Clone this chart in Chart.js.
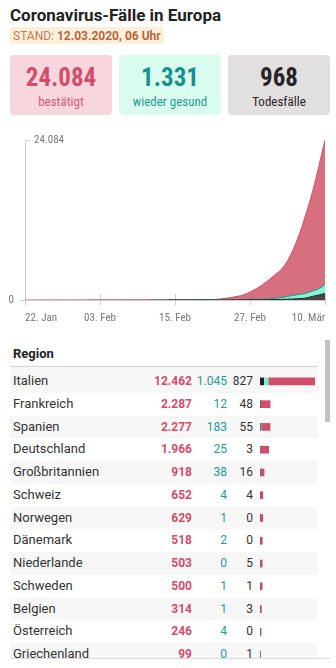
<!DOCTYPE html>
<html><head><meta charset="utf-8">
<script src="https://cdn.jsdelivr.net/npm/chart.js@4"></script>
<style>
html,body{margin:0;padding:0;background:#fff;}
body{width:336px;height:668px;position:relative;overflow:hidden;font-family:Roboto,sans-serif;color:#333;}
.abs{position:absolute;}
#title{left:10px;top:5px;font-size:17px;font-weight:700;line-height:20px;color:#222;white-space:nowrap;}
#stand{left:10px;top:27px;height:17px;line-height:18px;padding:0 3px;font-size:12px;background:#fdf0da;color:#c47a58;border-radius:3px;white-space:nowrap;}
#stand b{color:#b9643f;}
.card{position:absolute;top:55px;width:102px;height:60px;border-radius:4px;text-align:center;}
.cond{font-family:"Roboto Condensed",Roboto,sans-serif;font-stretch:condensed;}
.card .num{position:absolute;left:0;right:0;top:7.5px;font-size:25px;font-weight:700;line-height:30px;}
.card .lab{position:absolute;left:0;right:0;top:38.5px;font-size:13px;line-height:16px;}
#c1{left:10px;background:#f7d6dd;color:#d24d6b;}
#c1 .lab{color:#d65a7a;}
#c2{left:119px;background:#dafcef;color:#14918d;}
#c2 .lab{color:#1f9a96;}
#c3{left:228px;background:#e1dfe0;color:#2a2326;}
#chartBox{left:0;top:120px;width:336px;height:210px;}
#tbl{left:10px;top:340px;width:320px;height:318px;overflow:hidden;border-bottom:1px solid #ddd;}
#thead{position:absolute;left:0;top:0;width:308px;height:26px;border-bottom:2px solid #d2d2d2;}
#thead span{position:absolute;left:3px;top:5px;font-size:13px;font-weight:700;line-height:18px;color:#222;}
.row{position:absolute;left:0;width:308px;height:22.75px;line-height:22.75px;font-size:13px;}
.row.sh{background:#f7f7f7;}
.row .nm{position:absolute;left:3px;color:#333;white-space:nowrap;}
.row .cf{position:absolute;left:122px;width:60px;text-align:right;font-size:12px;font-weight:700;color:#d24d6b;}
.row .rc{position:absolute;left:167px;width:50px;text-align:right;font-size:12px;color:#1f9a96;}
.row .dt{position:absolute;left:203px;width:40px;text-align:right;font-size:12px;color:#333;}
#thumb{position:absolute;left:315px;top:0;width:5px;height:82px;background:#c1c1c1;}
#barBox{position:absolute;left:250px;top:30px;width:55px;height:296px;}
</style>
</head><body>
<div id="title" class="abs">Coronavirus-Fälle in Europa</div>
<div id="stand" class="abs">STAND: <b>12.03.2020, 06 Uhr</b></div>
<div id="c1" class="card"><div class="num cond" id="n1"></div><div class="lab cond">bestätigt</div></div>
<div id="c2" class="card"><div class="num cond" id="n2"></div><div class="lab cond">wieder gesund</div></div>
<div id="c3" class="card"><div class="num cond" id="n3"></div><div class="lab cond">Todesfälle</div></div>
<div id="chartBox" class="abs"><canvas id="main" width="336" height="210"></canvas></div>
<div id="tbl" class="abs">
  <div id="thead"><span>Region</span></div>
  <div id="rows"></div>
  <div id="barBox"><canvas id="bars" width="55" height="296"></canvas></div>
  <div id="thumb"></div>
</div>
<script>
// ---- time series (Europe, cumulative) ----
const dates = ['22.01','23.01','24.01','25.01','26.01','27.01','28.01','29.01','30.01','31.01',
  '01.02','02.02','03.02','04.02','05.02','06.02','07.02','08.02','09.02','10.02',
  '11.02','12.02','13.02','14.02','15.02','16.02','17.02','18.02','19.02','20.02',
  '21.02','22.02','23.02','24.02','25.02','26.02','27.02','28.02','29.02',
  '01.03','02.03','03.03','04.03','05.03','06.03','07.03','08.03','09.03','10.03'];
const xTickLabels = {'22.01':'22. Jan','03.02':'03. Feb','15.02':'15. Feb','27.02':'27. Feb','10.03':'10. Mär'};
const confirmed = [0,0,2,3,3,4,7,10,10,14,
  18,20,22,24,26,28,32,38,42,44,
  45,46,46,46,47,47,47,47,47,47,
  60,130,240,380,550,800,1200,1700,2300,
  3000,3800,4600,5900,7800,10200,13100,16300,20100,24084];
const recovered = [0,0,0,0,0,0,0,0,0,0,
  0,0,0,0,0,0,0,0,0,0,
  0,2,2,3,3,4,5,8,10,12,
  14,16,18,20,22,30,70,80,90,
  130,200,280,420,560,650,720,800,950,1331];
const deaths = [0,0,0,0,0,0,0,0,0,0,
  0,0,0,0,0,0,0,0,0,0,
  0,0,0,0,1,1,1,1,1,1,
  2,4,6,10,14,16,22,28,35,
  45,60,90,120,160,210,300,550,750,968];

// ---- table ----
const regions = ['Italien','Frankreich','Spanien','Deutschland','Großbritannien','Schweiz','Norwegen','Dänemark','Niederlande','Schweden','Belgien','Österreich','Griechenland'];
const regConfirmed = [12462,2287,2277,1966,918,652,629,518,503,500,314,246,99];
const regRecovered = [1045,12,183,25,38,4,1,2,0,1,1,4,0];
const regDeaths = [827,48,55,3,16,4,0,0,5,1,3,0,1];

const fmt = n => String(n).replace(/\B(?=(\d{3})+(?!\d))/g, '.');
const last = confirmed.length - 1;
document.getElementById('n1').textContent = fmt(confirmed[last]);
document.getElementById('n2').textContent = fmt(recovered[last]);
document.getElementById('n3').textContent = fmt(deaths[last]);

const rowsEl = document.getElementById('rows');
regions.forEach((r, i) => {
  const d = document.createElement('div');
  d.className = 'row' + (i % 2 === 0 ? ' sh' : '');
  d.style.top = (30.1 + 22.75 * i) + 'px';
  if (i === 0) { d.style.top = '27.3px'; d.style.height = '25.55px'; d.style.paddingTop = '0'; d.style.lineHeight = '28.35px'; }
  d.innerHTML = '<span class="nm"></span><span class="cf"></span><span class="rc"></span><span class="dt"></span>';
  d.querySelector('.nm').textContent = r;
  d.querySelector('.cf').textContent = fmt(regConfirmed[i]);
  d.querySelector('.rc').textContent = fmt(regRecovered[i]);
  d.querySelector('.dt').textContent = fmt(regDeaths[i]);
  rowsEl.appendChild(d);
});

Chart.defaults.font.family = 'Roboto';
Chart.defaults.font.size = 11;
Chart.defaults.color = '#777';

const axisColor = '#cccccc';
const active = confirmed.map((c, i) => c - recovered[i] - deaths[i]);
const yMax = Math.max(...confirmed);
const hideZero = ctx => (ctx.p0.parsed.y === 0 && ctx.p1.parsed.y === 0) ? 'rgba(0,0,0,0)' : undefined;

const crossTicks = {
  id: 'crossTicks',
  beforeDatasetsDraw(chart) {
    const {ctx, chartArea, scales} = chart;
    ctx.save();
    ctx.strokeStyle = axisColor; ctx.lineWidth = 1;
    dates.forEach((d, i) => {
      if (!xTickLabels[d]) return;
      const x = Math.round(scales.x.getPixelForValue(i)) + 0.5;
      ctx.beginPath(); ctx.moveTo(x, chartArea.bottom - 6); ctx.lineTo(x, chartArea.bottom); ctx.stroke();
    });
    ctx.restore();
  },
  afterDraw(chart) {
    const {ctx, chartArea, scales} = chart;
    const y = Math.round(scales.y.getPixelForValue(yMax)) + 0.5;
    ctx.save();
    ctx.strokeStyle = axisColor; ctx.lineWidth = 1;
    ctx.beginPath(); ctx.moveTo(chartArea.left, y); ctx.lineTo(chartArea.left + 5, y); ctx.stroke();
    ctx.fillStyle = '#777';
    ctx.font = 'condensed 11px Roboto';
    ctx.textAlign = 'left'; ctx.textBaseline = 'middle';
    ctx.fillText(fmt(yMax), chartArea.left + 9, y);
    ctx.restore();
  }
};

new Chart(document.getElementById('main'), {
  type: 'line',
  data: {
    labels: dates,
    datasets: [
      {label: 'Todesfälle', data: deaths, fill: 'origin', backgroundColor: '#4b4448', borderColor: '#2a2326', borderWidth: 1, segment: {borderColor: hideZero}},
      {label: 'wieder gesund', data: recovered, fill: '-1', backgroundColor: '#7ef9d0', borderColor: '#178f8a', borderWidth: 1, segment: {borderColor: hideZero}},
      {label: 'bestätigt', data: active, fill: '-1', backgroundColor: '#d6707f', borderColor: '#d04f6c', borderWidth: 1}
    ]
  },
  options: {
    responsive: false, animation: false, devicePixelRatio: 1,
    elements: {point: {radius: 0}, line: {cubicInterpolationMode: 'monotone'}},
    layout: {padding: {top: 20, right: 11, bottom: 5, left: 0}},
    plugins: {legend: {display: false}, tooltip: {enabled: false}},
    scales: {
      x: {
        grid: {display: true, drawOnChartArea: false, tickLength: 5, color: axisColor},
        border: {display: true, color: axisColor},
        ticks: {autoSkip: false, maxRotation: 0, align: 'inner', padding: 7, color: '#777',
          font: {size: 11, weight: 'condensed'},
          callback: (v, i) => xTickLabels[dates[i]] || null},
        afterFit: s => { s.height = 25; }
      },
      y: {
        stacked: true, min: 0, max: yMax,
        afterBuildTicks: s => { s.ticks = [{value: 0}, {value: yMax}]; },
        grid: {drawOnChartArea: false, tickLength: 5, color: c => (c.tick && c.tick.value === 0) ? axisColor : 'rgba(0,0,0,0)'},
        border: {display: true, color: axisColor},
        ticks: {padding: 6, color: '#777', font: {size: 11, weight: 'condensed'}, callback: v => v === 0 ? '0' : ''},
        afterFit: s => { s.width = 25; }
      }
    }
  },
  plugins: [crossTicks]
});

const regActive = regConfirmed.map((c, i) => c - regRecovered[i] - regDeaths[i]);
new Chart(document.getElementById('bars'), {
  type: 'bar',
  data: {
    labels: regions,
    datasets: [
      {data: regDeaths, backgroundColor: '#222222'},
      {data: regRecovered, backgroundColor: '#72f5c9'},
      {data: regActive, backgroundColor: '#d24d6b'}
    ]
  },
  options: {
    indexAxis: 'y', responsive: false, animation: false, devicePixelRatio: 1,
    barThickness: 7, borderWidth: 0,
    layout: {padding: 0},
    plugins: {legend: {display: false}, tooltip: {enabled: false}},
    scales: {
      x: {display: false, stacked: true, min: 0, max: Math.max(...regConfirmed)},
      y: {display: false, stacked: true}
    }
  }
});
</script>
</body></html>
